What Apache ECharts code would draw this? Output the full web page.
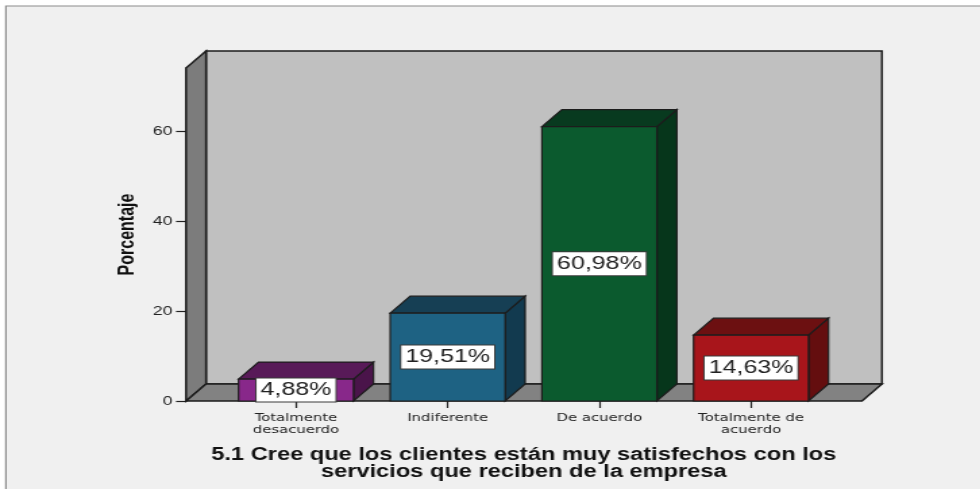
<!DOCTYPE html>
<html>
<head>
<meta charset="utf-8">
<script src="https://cdn.jsdelivr.net/npm/echarts@6/dist/echarts.min.js"></script>
<style>
  html, body { margin: 0; padding: 0; background: #fff; overflow: hidden; }
  #wrap { width: 980px; height: 489px; overflow: hidden; }
  /* the chart is laid out narrower and stretched sideways, as in the exported figure */
  #chart { width: 726px; height: 489px; transform: scaleX(1.35); transform-origin: 0 0; }
</style>
</head>
<body>
<div id="wrap"><div id="chart"></div></div>
<script>
// ---- data ----
const categories = ['Totalmente\ndesacuerdo', 'Indiferente', 'De acuerdo', 'Totalmente de\nacuerdo'];
const percentages = [4.88, 19.51, 60.98, 14.63];
const yTicks = [0, 20, 40, 60];
const axisTitle = 'Porcentaje';
const chartTitle = '5.1 Cree que los clientes están muy satisfechos con los\nservicios que reciben de la empresa';

// ---- styling ----
const barFaces = [
  { front: '#88288a', top: '#581a58', side: '#4a144a' },
  { front: '#1e6283', top: '#163f54', side: '#123a4f' },
  { front: '#0b5a2e', top: '#083a1f', side: '#06361b' },
  { front: '#a8151b', top: '#6c1011', side: '#640e0f' }
];
const Y_MAX = 74;
const DEPTH_X = 14.8, DEPTH_Y = -17;
const WALL_LEFT = 25.3, WALL_RIGHT = 26;
const EDGE = '#1c1c1c';
const BAR_FRACTION = 0.758;

const fmtPct = v => v.toFixed(2).replace('.', ',') + '%';

// back wall, left wall and floor of the 3D box
function renderRoom(params, api) {
  const cs = params.coordSys;
  const l = cs.x - WALL_LEFT, r = cs.x + cs.width + WALL_RIGHT;
  const b = api.coord([0, 0])[1], t = api.coord([0, Y_MAX])[1];
  const dx = DEPTH_X, dy = DEPTH_Y;
  return {
    type: 'group',
    children: [
      { type: 'rect', shape: { x: l + dx, y: t + dy, width: r - l, height: b - t },
        style: { fill: '#c0c0c0', stroke: EDGE, lineWidth: 1.5 } },
      { type: 'polygon', shape: { points: [[l, b], [l, t], [l + dx, t + dy], [l + dx, b + dy]] },
        style: { fill: '#7c7c7c', stroke: EDGE, lineWidth: 1.5 } },
      { type: 'polygon', shape: { points: [[l, b], [r, b], [r + dx, b + dy], [l + dx, b + dy]] },
        style: { fill: '#828282', stroke: EDGE, lineWidth: 1.5 } }
    ]
  };
}

// one 3D bar: front face, top face, right side, value label
function renderBar(params, api) {
  const i = api.value(0), v = api.value(1);
  const top = api.coord([i, v]), base = api.coord([i, 0]);
  const w = api.size([1, 0])[0] * BAR_FRACTION;
  const x0 = top[0] - w / 2, x1 = top[0] + w / 2, yt = top[1], yb = base[1];
  const dx = DEPTH_X, dy = DEPTH_Y;
  const c = barFaces[params.dataIndex];
  return {
    type: 'group',
    children: [
      { type: 'polygon', shape: { points: [[x1, yt], [x1 + dx, yt + dy], [x1 + dx, yb + dy], [x1, yb]] },
        style: { fill: c.side, stroke: EDGE, lineWidth: 1.2 } },
      { type: 'polygon', shape: { points: [[x0, yt], [x1, yt], [x1 + dx, yt + dy], [x0 + dx, yt + dy]] },
        style: { fill: c.top, stroke: EDGE, lineWidth: 1.2 } },
      { type: 'rect', shape: { x: x0, y: yt, width: w, height: yb - yt },
        style: { fill: c.front, stroke: EDGE, lineWidth: 1.2 } },
      { type: 'text', x: top[0], y: (yt + yb) / 2,
        style: { text: fmtPct(v), align: 'center', verticalAlign: 'middle',
                 fontFamily: 'Liberation Sans, Arial, sans-serif', fontSize: 18.5, fill: '#222',
                 backgroundColor: '#fff', borderColor: '#3a3a3a', borderWidth: 1, padding: [2, 3] } }
    ]
  };
}

const chart = echarts.init(document.getElementById('chart'));
chart.setOption({
  backgroundColor: '#fff',
  animation: false,
  graphic: [
    { type: 'rect', z: -10, shape: { x: 4.4, y: 6, width: 900, height: 600 },
      style: { fill: '#f0f0f0', stroke: '#8c8c8c', lineWidth: 1.2 } },
    { type: 'text', x: 388, y: 447,
      style: { text: chartTitle, align: 'center', verticalAlign: 'top',
               fontFamily: 'Liberation Sans, Arial, sans-serif', fontWeight: 'bold',
               fontSize: 17.5, lineHeight: 16.5, fill: '#111' } }
  ],
  grid: { left: 163.1, right: 113.5, top: 68, bottom: 88, containLabel: false },
  xAxis: {
    type: 'category',
    data: categories,
    boundaryGap: true,
    axisLine: { show: false },
    axisTick: { show: true, alignWithLabel: true, length: 7, lineStyle: { color: '#222', width: 1.2 } },
    axisLabel: { interval: 0, margin: 11, fontFamily: 'DejaVu Sans', fontSize: 11, lineHeight: 12, color: '#222' },
    splitLine: { show: false }
  },
  yAxis: {
    type: 'value',
    min: 0,
    max: Y_MAX,
    offset: WALL_LEFT,
    axisLine: { show: true, lineStyle: { color: EDGE, width: 1.5 } },
    axisTick: { show: true, customValues: yTicks, length: 7.4, lineStyle: { color: '#222', width: 1.2 } },
    axisLabel: { customValues: yTicks, margin: 10, fontFamily: 'Liberation Sans, Arial, sans-serif', fontSize: 13, color: '#222' },
    splitLine: { show: false },
    name: axisTitle,
    nameLocation: 'middle',
    nameGap: 35,
    nameRotate: 90,
    nameTextStyle: { fontFamily: 'Liberation Sans, Arial, sans-serif', fontWeight: 'bold', fontSize: 16, color: '#111' }
  },
  series: [
    { type: 'custom', name: 'room', coordinateSystem: 'cartesian2d', silent: true, clip: false, z: 1,
      renderItem: renderRoom, data: [[0, 0]] },
    { type: 'custom', name: 'Porcentaje', coordinateSystem: 'cartesian2d', clip: false, z: 2,
      renderItem: renderBar, data: percentages.map((v, i) => [i, v]) }
  ]
});
</script>
</body>
</html>
